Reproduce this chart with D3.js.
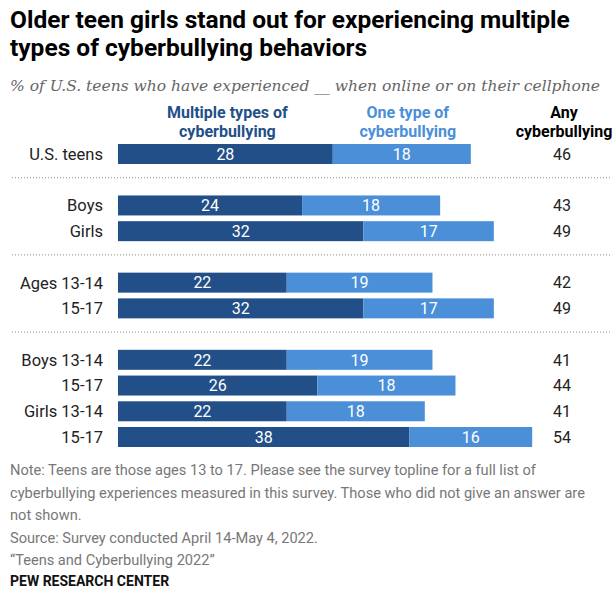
<!DOCTYPE html>
<html>
<head>
<meta charset="utf-8">
<script src="https://cdn.jsdelivr.net/npm/d3@7"></script>
<style>
  body { margin: 0; background: #fff; }
  svg { display: block; font-family: "Liberation Sans Narrow", "Roboto", "Liberation Sans", sans-serif; }
</style>
</head>
<body>
<div id="chart"></div>
<script>
// donnees
var labels   = ["U.S. teens", "Boys", "Girls", "Ages 13-14", "15-17", "Boys 13-14", "15-17", "Girls 13-14", "15-17"];
var groups   = [0, 1, 1, 2, 2, 3, 3, 3, 3];
var multiple = [28, 24, 32, 22, 32, 22, 26, 22, 38];
var single   = [18, 18, 17, 19, 17, 19, 18, 18, 16];
var anyBully = [46, 43, 49, 42, 49, 41, 44, 41, 54];

var width = 612, height = 606;
var dark = "#234f88", light = "#4a8fd8";

var svg = d3.select("#chart").append("svg")
    .attr("width", width)
    .attr("height", height);

// titre
var title = svg.append("text")
    .attr("x", 10)
    .attr("font-weight", "bold")
    .attr("font-size", 24.5)
    .attr("fill", "#000");
title.append("tspan").attr("x", 10).attr("y", 28).text("Older teen girls stand out for experiencing multiple");
title.append("tspan").attr("x", 10).attr("y", 56).text("types of cyberbullying behaviors");

svg.append("text")
    .attr("x", 10)
    .attr("y", 91)
    .style("font-family", "'DejaVu Serif', Georgia, serif")
    .attr("font-style", "italic")
    .attr("font-size", 15)
    .attr("fill", "#666")
    .attr("textLength", 590)
    .attr("lengthAdjust", "spacingAndGlyphs")
    .text("% of U.S. teens who have experienced __ when online or on their cellphone");

// lignes avec un creneau vide entre les groupes
var slots = [];
labels.forEach(function(d, i) {
  if (i > 0 && groups[i] != groups[i - 1]) slots.push("gap" + groups[i]);
  slots.push("row" + i);
});

var x = d3.scaleLinear().domain([0, 54]).range([118, 118 + 54 * 7.67]);
var y = d3.scaleBand()
    .domain(slots)
    .range([144, 447])
    .paddingInner(0.223)
    .paddingOuter(0);

// en-tetes
var headers = [
  {lines: ["Multiple types of", "cyberbullying"], cx: x(multiple[0] / 2) + 2, color: dark},
  {lines: ["One type of", "cyberbullying"], cx: x(multiple[0] + single[0] / 2) + 6, color: light},
  {lines: ["Any", "cyberbullying"], cx: 564, color: "#000"}
];
headers.forEach(function(h) {
  var t = svg.append("text")
      .attr("text-anchor", "middle")
      .attr("font-weight", "bold")
      .attr("font-size", 16)
      .attr("fill", h.color);
  h.lines.forEach(function(l, k) {
    t.append("tspan").attr("x", h.cx).attr("y", 118 + k * 19).text(l);
  });
});

// separateurs pointilles
svg.append("g")
  .selectAll("line")
  .data(slots.filter(function(s) { return s.indexOf("gap") == 0; }))
  .enter().append("line")
    .attr("x1", 12)
    .attr("x2", width)
    .attr("y1", function(d) { return y(d) + y.bandwidth() / 2 - 2; })
    .attr("y2", function(d) { return y(d) + y.bandwidth() / 2 - 2; })
    .attr("stroke", "#8a8a8a")
    .attr("stroke-width", 1)
    .attr("stroke-dasharray", "1,2");

var rows = labels.map(function(d, i) {
  return {label: d, key: "row" + i, m: multiple[i], s: single[i], any: anyBully[i]};
});

var row = svg.append("g")
  .selectAll("g")
  .data(rows)
  .enter().append("g")
    .attr("transform", function(d) { return "translate(0," + y(d.key) + ")"; });

var h = y.bandwidth();

row.append("text")
    .attr("x", 103)
    .attr("y", h / 2)
    .attr("dy", "0.36em")
    .attr("text-anchor", "end")
    .attr("font-size", 16.5)
    .attr("fill", "#222")
    .text(function(d) { return d.label; });

row.append("rect")
    .attr("x", x(0))
    .attr("width", function(d) { return x(d.m) - x(0); })
    .attr("height", h)
    .attr("fill", dark);

row.append("rect")
    .attr("x", function(d) { return x(d.m); })
    .attr("width", function(d) { return x(d.m + d.s) - x(d.m); })
    .attr("height", h)
    .attr("fill", light);

row.append("text")
    .attr("x", function(d) { return x(d.m / 2); })
    .attr("y", h / 2)
    .attr("dy", "0.36em")
    .attr("text-anchor", "middle")
    .attr("font-size", 16)
    .attr("fill", "#fff")
    .text(function(d) { return d.m; });

row.append("text")
    .attr("x", function(d) { return x(d.m + d.s / 2); })
    .attr("y", h / 2)
    .attr("dy", "0.36em")
    .attr("text-anchor", "middle")
    .attr("font-size", 16)
    .attr("fill", "#fff")
    .text(function(d) { return d.s; });

row.append("text")
    .attr("x", 562)
    .attr("y", h / 2)
    .attr("dy", "0.36em")
    .attr("text-anchor", "middle")
    .attr("font-size", 16)
    .attr("fill", "#222")
    .text(function(d) { return d.any; });

// notes
var notes = [
  "Note: Teens are those ages 13 to 17. Please see the survey topline for a full list of",
  "cyberbullying experiences measured in this survey. Those who did not give an answer are",
  "not shown.",
  "Source: Survey conducted April 14-May 4, 2022.",
  "\u201CTeens and Cyberbullying 2022\u201D"
];
svg.append("g")
  .selectAll("text")
  .data(notes)
  .enter().append("text")
    .attr("x", 10)
    .attr("y", function(d, i) { return 475 + i * 22.5; })
    .attr("font-size", 14.6)
    .attr("fill", "#777")
    .text(function(d) { return d; });

svg.append("text")
    .attr("x", 10)
    .attr("y", 586)
    .attr("font-size", 14)
    .attr("font-weight", "bold")
    .attr("fill", "#111")
    .text("PEW RESEARCH CENTER");
</script>
</body>
</html>
